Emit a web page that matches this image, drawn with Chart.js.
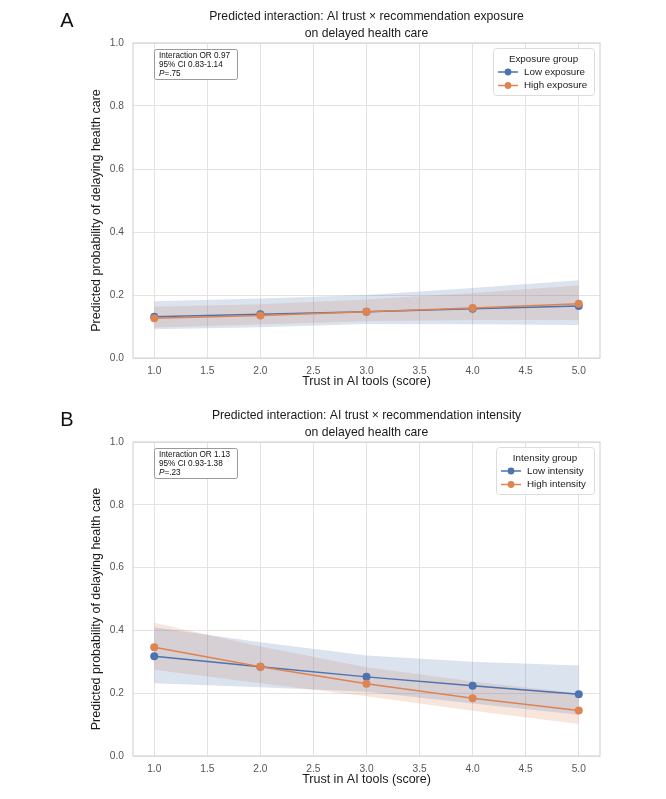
<!DOCTYPE html>
<html>
<head>
<meta charset="utf-8">
<script src="https://cdn.jsdelivr.net/npm/chart.js@4.4.1/dist/chart.umd.min.js"></script>
<style>
  html, body { margin: 0; padding: 0; background: #ffffff; }
  .panel { width: 666px; display: block; }
  canvas { display: block; }
</style>
</head>
<body>
<div class="panel"><canvas id="chartA" width="666" height="400"></canvas></div>
<div class="panel"><canvas id="chartB" width="666" height="399"></canvas></div>
<script>
// ---------------- DATA ----------------
const trustScores = [1.0, 2.0, 3.0, 4.0, 5.0];
const xTickValues = [1.0, 1.5, 2.0, 2.5, 3.0, 3.5, 4.0, 4.5, 5.0];
const yTickValues = [0.0, 0.2, 0.4, 0.6, 0.8, 1.0];

// Panel A: exposure
const lowExposure      = [0.131, 0.139, 0.147, 0.156, 0.165];
const lowExposureLo    = [0.091, 0.098, 0.108, 0.107, 0.105];
const lowExposureHi    = [0.180, 0.189, 0.200, 0.222, 0.247];
const highExposure     = [0.126, 0.135, 0.147, 0.159, 0.172];
const highExposureLo   = [0.097, 0.106, 0.117, 0.121, 0.121];
const highExposureHi   = [0.163, 0.171, 0.186, 0.206, 0.230];

// Panel B: intensity
const lowIntensity     = [0.318, 0.284, 0.252, 0.224, 0.197];
const lowIntensityLo   = [0.232, 0.219, 0.205, 0.167, 0.131];
const lowIntensityHi   = [0.410, 0.362, 0.320, 0.300, 0.288];
const highIntensity    = [0.346, 0.284, 0.230, 0.184, 0.145];
const highIntensityLo  = [0.275, 0.232, 0.190, 0.144, 0.102];
const highIntensityHi  = [0.424, 0.349, 0.283, 0.237, 0.200];

const panelA = {
  letter: 'A',
  title: ['Predicted interaction: AI trust \u00d7 recommendation exposure', 'on delayed health care'],
  legendTitle: 'Exposure group',
  names: ['Low exposure', 'High exposure'],
  annotation: ['Interaction OR 0.97', '95% CI 0.83-1.14', '.75'],
  series: [lowExposure, highExposure],
  lo: [lowExposureLo, highExposureLo],
  hi: [lowExposureHi, highExposureHi]
};
const panelB = {
  letter: 'B',
  title: ['Predicted interaction: AI trust \u00d7 recommendation intensity', 'on delayed health care'],
  legendTitle: 'Intensity group',
  names: ['Low intensity', 'High intensity'],
  annotation: ['Interaction OR 1.13', '95% CI 0.93-1.38', '.23'],
  series: [lowIntensity, highIntensity],
  lo: [lowIntensityLo, highIntensityLo],
  hi: [lowIntensityHi, highIntensityHi]
};

// ---------------- STYLE ----------------
const FONT = '"Liberation Sans", Arial, Helvetica, sans-serif';
const COLORS = ['#4C72B0', '#DD8452'];
const BANDS = ['rgba(76,114,176,0.2)', 'rgba(221,132,82,0.2)'];

function pts(ys) { return trustScores.map((x, i) => ({ x: x, y: ys[i] })); }

function makeChart(canvasId, p, layout) {
  const datasets = [];
  // lines first (Chart.js draws lower indices on top): orange above blue
  for (let s = 1; s >= 0; s--) {
    datasets.push({ label: p.names[s], data: pts(p.series[s]), borderColor: COLORS[s], backgroundColor: COLORS[s], borderWidth: 1.5, pointRadius: 4, pointBorderWidth: 0, pointBackgroundColor: COLORS[s], fill: false, tension: 0 });
  }
  for (let s = 0; s < 2; s++) {
    datasets.push({ label: '_lo' + s, data: pts(p.lo[s]), borderColor: 'rgba(0,0,0,0)', borderWidth: 0, pointRadius: 0, fill: false, tension: 0 });
    datasets.push({ label: '_hi' + s, data: pts(p.hi[s]), borderColor: 'rgba(0,0,0,0)', borderWidth: 0, pointRadius: 0, backgroundColor: BANDS[s], fill: '-1', tension: 0 });
  }

  const decor = {
    id: 'decor',
    afterDraw(chart) {
      const ctx = chart.ctx;
      const a = chart.chartArea;
      const cx = (a.left + a.right) / 2;
      ctx.save();
      // frame
      ctx.strokeStyle = '#d6d6d6';
      ctx.lineWidth = 1.2;
      ctx.strokeRect(a.left, a.top, a.right - a.left, a.bottom - a.top);
      // panel letter
      ctx.fillStyle = '#111';
      ctx.font = '20px ' + FONT;
      ctx.textAlign = 'center';
      ctx.textBaseline = 'middle';
      ctx.fillText(p.letter, 67, layout.letterY);
      // title
      ctx.fillStyle = '#1a1a1a';
      ctx.font = '12.2px ' + FONT;
      ctx.textBaseline = 'alphabetic';
      ctx.fillText(p.title[0], cx, layout.titleY);
      ctx.fillText(p.title[1], cx, layout.titleY + 16.5);
      // x axis title
      ctx.font = '12.5px ' + FONT;
      ctx.fillStyle = '#1a1a1a';
      ctx.fillText('Trust in AI tools (score)', cx, a.bottom + 27);
      // y axis title
      ctx.save();
      ctx.translate(97, (a.top + a.bottom) / 2 + 10);
      ctx.rotate(-Math.PI / 2);
      ctx.textBaseline = 'middle';
      ctx.fillText('Predicted probability of delaying health care', 0, 0);
      ctx.restore();

      // annotation box
      const bx = a.left + 21, by = a.top + 6, bw = 83, bh = 30;
      ctx.fillStyle = 'rgba(255,255,255,0.9)';
      ctx.strokeStyle = '#9a9a9a';
      ctx.lineWidth = 1;
      ctx.beginPath();
      ctx.roundRect(bx + 0.5, by + 0.5, bw, bh, 2);
      ctx.fill();
      ctx.stroke();
      ctx.fillStyle = '#111';
      ctx.font = '8.2px ' + FONT;
      ctx.textAlign = 'left';
      ctx.textBaseline = 'middle';
      ctx.fillText(p.annotation[0], bx + 5, by + 6.5);
      ctx.fillText(p.annotation[1], bx + 5, by + 15.5);
      ctx.font = 'italic 8.2px ' + FONT;
      ctx.fillText('P', bx + 5, by + 24.5);
      const pw = ctx.measureText('P').width;
      ctx.font = '8.2px ' + FONT;
      ctx.fillText('=' + p.annotation[2], bx + 5 + pw, by + 24.5);

      // legend
      const lw = layout.legendW, lh = 47;
      const lx = a.right - 6 - lw, ly = a.top + 5;
      ctx.fillStyle = 'rgba(255,255,255,0.85)';
      ctx.strokeStyle = '#dcdcdc';
      ctx.beginPath();
      ctx.roundRect(lx + 0.5, ly + 0.5, lw, lh, 3);
      ctx.fill();
      ctx.stroke();
      ctx.fillStyle = '#1a1a1a';
      ctx.font = '9.8px ' + FONT;
      ctx.textAlign = 'center';
      ctx.fillText(p.legendTitle, lx + lw / 2, ly + 11);
      for (let s = 0; s < 2; s++) {
        const yy = ly + 24 + s * 13.5;
        const mx = lx + 5;
        ctx.strokeStyle = COLORS[s];
        ctx.lineWidth = 1.5;
        ctx.beginPath();
        ctx.moveTo(mx, yy);
        ctx.lineTo(mx + 20, yy);
        ctx.stroke();
        ctx.fillStyle = COLORS[s];
        ctx.beginPath();
        ctx.arc(mx + 10, yy, 3.4, 0, Math.PI * 2);
        ctx.fill();
        ctx.fillStyle = '#1a1a1a';
        ctx.textAlign = 'left';
        ctx.fillText(p.names[s], mx + 26, yy);
      }
      ctx.restore();
    }
  };

  return new Chart(document.getElementById(canvasId), {
    type: 'line',
    data: { datasets: datasets },
    options: {
      responsive: false,
      animation: false,
      devicePixelRatio: 1,
      layout: { padding: { left: 0, right: 66, top: layout.top, bottom: 0 } },
      plugins: { legend: { display: false }, title: { display: false }, tooltip: { enabled: false } },
      scales: {
        x: {
          type: 'linear',
          min: 0.8, max: 5.2,
          afterBuildTicks(scale) { scale.ticks = xTickValues.map(v => ({ value: v })); },
          afterFit(scale) { scale.height = layout.xAxisH; },
          grid: { color: '#e3e3e3', lineWidth: 1, drawTicks: false },
          border: { display: false },
          ticks: { padding: 7, color: '#555', font: { family: FONT, size: 10.2 }, callback: v => Number(v).toFixed(1), maxRotation: 0 }
        },
        y: {
          type: 'linear',
          min: 0, max: 1,
          afterBuildTicks(scale) { scale.ticks = yTickValues.map(v => ({ value: v })); },
          afterFit(scale) { scale.width = 133; },
          grid: { color: '#e3e3e3', lineWidth: 1, drawTicks: false },
          border: { display: false },
          ticks: { padding: 9, color: '#555', font: { family: FONT, size: 10.2 }, callback: v => Number(v).toFixed(1) }
        }
      }
    },
    plugins: [decor]
  });
}

makeChart('chartA', panelA, { top: 43, xAxisH: 42, letterY: 21, titleY: 20, legendW: 101 });
makeChart('chartB', panelB, { top: 42, xAxisH: 43, letterY: 20, titleY: 19, legendW: 98 });
</script>
</body>
</html>
